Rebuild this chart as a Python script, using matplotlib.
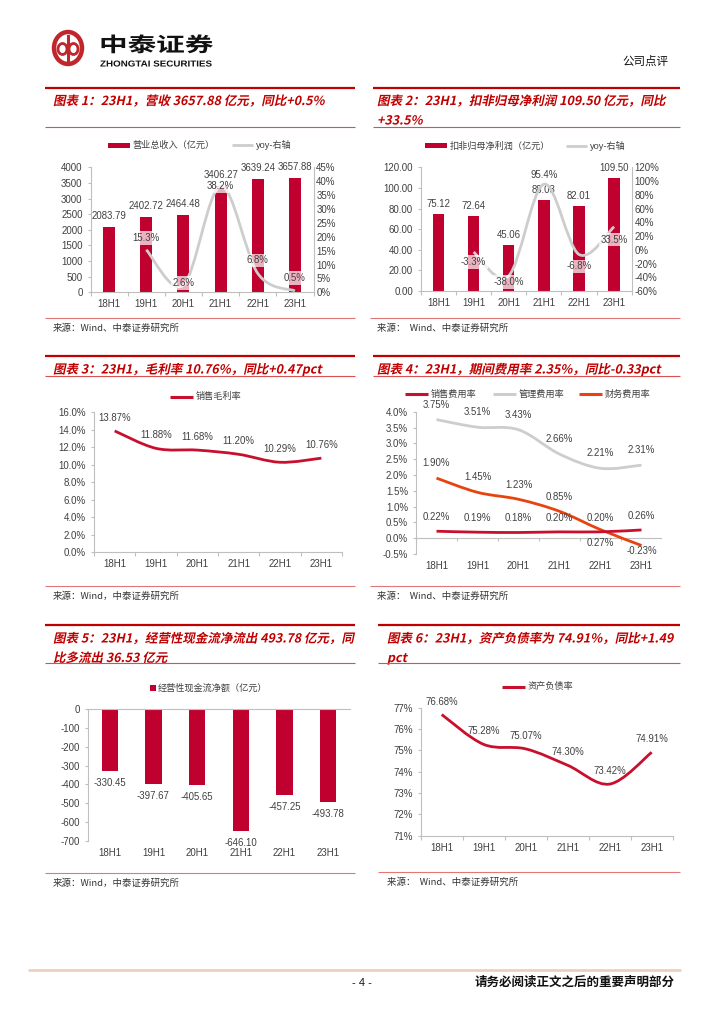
import numpy as np
import matplotlib
matplotlib.use('Agg')
from matplotlib import pyplot as plt
from matplotlib.path import Path
from matplotlib.patches import PathPatch, Rectangle, Ellipse
from matplotlib.textpath import TextPath
from matplotlib.font_manager import FontProperties
from matplotlib.transforms import Affine2D
from matplotlib.ticker import MultipleLocator, FuncFormatter
from matplotlib.lines import Line2D

plt.rcParams['font.family'] = ['Liberation Sans', 'Noto Sans CJK SC', 'DejaVu Sans']

W, H = 724, 1024

# ---- data ----
periods = ['18H1', '19H1', '20H1', '21H1', '22H1', '23H1']
revenue = [2083.79, 2402.72, 2464.48, 3406.27, 3639.24, 3657.88]
revenue_yoy = [15.3, 2.6, 38.2, 6.8, 0.5]          # 19H1..23H1
profit = [75.12, 72.64, 45.06, 88.03, 82.01, 109.50]
profit_yoy = [-3.3, -38.0, 95.4, -6.8, 33.5]        # 19H1..23H1
gross_margin = [13.87, 11.88, 11.68, 11.20, 10.29, 10.76]
sales_exp = [0.22, 0.19, 0.18, 0.20, 0.20, 0.26]
admin_exp = [3.75, 3.51, 3.43, 2.66, 2.21, 2.31]
fin_exp = [1.90, 1.45, 1.23, 0.85, 0.27, -0.23]
op_cash = [-330.45, -397.67, -405.65, -646.10, -457.25, -493.78]
debt_ratio = [76.68, 75.28, 75.07, 74.30, 73.42, 74.91]

# label offsets in pixels (+ is up), just to sit like the original
rev_yoy_off = [12, 2, 0, 13, 13]
profit_yoy_off = [-10, -6, 9, -12, -13]
fin_off = [15, 15, 14, 14, -13, -6]

RED = '#c0002f'
LRED = '#c8102e'
GRAYL = '#cdcdcd'
ORANGE = '#e8430f'
AXIS = '#bfbfbf'
TXT = '#404040'
TRED = '#c00000'
TICK_FS = 7.0
LAB_FS = 6.9

CJK = FontProperties(family='Noto Sans CJK SC', weight='bold')


def px_axes(fig, x0, y0, x1, y1):
    return fig.add_axes([x0 / W, 1 - y1 / H, (x1 - x0) / W, (y1 - y0) / H])


def smooth_path(xs, ys):
    # excel-like smooth line: bezier segments through the points
    pts = np.column_stack([xs, ys]).astype(float)
    n = len(pts)
    verts = [pts[0]]
    codes = [Path.MOVETO]
    for i in range(n - 1):
        p0 = pts[i - 1] if i > 0 else pts[i]
        p1 = pts[i]
        p2 = pts[i + 1]
        p3 = pts[i + 2] if i + 2 < n else pts[i + 1]
        verts += [p1 + (p2 - p0) / 6, p2 - (p3 - p1) / 6, p2]
        codes += [Path.CURVE4] * 3
    return Path(verts, codes)


def add_smooth(ax, xs, ys, color, lw=2.0):
    ax.add_patch(PathPatch(smooth_path(xs, ys), fill=False, ec=color, lw=lw,
                           capstyle='butt', joinstyle='round', zorder=3))


def style_axes(ax, fmt, step, ylim):
    ax.set_facecolor('none')
    for s in ['top', 'right']:
        ax.spines[s].set_visible(False)
    for s in ['left', 'bottom']:
        ax.spines[s].set_color(AXIS)
        ax.spines[s].set_linewidth(0.8)
    ax.set_ylim(*ylim)
    ax.yaxis.set_major_locator(MultipleLocator(step))
    ax.yaxis.set_major_formatter(FuncFormatter(lambda v, p: fmt % v))
    ax.tick_params(axis='y', colors=AXIS, labelcolor=TXT, labelsize=TICK_FS,
                   length=2.2, width=0.8, pad=3.5)
    ax.set_xlim(-0.5, 5.5)
    ax.set_xticks(range(6))
    ax.set_xticklabels(periods)
    ax.tick_params(axis='x', length=0, labelsize=TICK_FS, labelcolor=TXT, pad=5)
    ax.set_xticks(np.arange(-0.5, 6, 1), minor=True)
    ax.tick_params(axis='x', which='minor', length=3, color=AXIS, width=0.8)


def right_axis(ax, fmt, step, ylim):
    ax2 = ax.twinx()
    ax2.set_facecolor('none')
    for s in ['top', 'left', 'bottom']:
        ax2.spines[s].set_visible(False)
    ax2.spines['right'].set_color(AXIS)
    ax2.spines['right'].set_linewidth(0.8)
    ax2.set_ylim(*ylim)
    ax2.yaxis.set_major_locator(MultipleLocator(step))
    ax2.yaxis.set_major_formatter(FuncFormatter(lambda v, p: fmt % v))
    ax2.tick_params(axis='y', length=0, labelsize=TICK_FS, labelcolor=TXT, pad=2)
    ax2.set_xlim(-0.5, 5.5)
    return ax2


def label(ax, x, y, s, off_px, box=False, size=LAB_FS):
    kw = {}
    if box:
        kw['bbox'] = dict(boxstyle='square,pad=0.18', fc='white', ec='none', alpha=0.7)
    ax.annotate(s, (x, y), xytext=(0, off_px * 0.72), textcoords='offset points',
                ha='center', va='center', fontsize=size, color=TXT, zorder=5, **kw)


def slant_text(bg, x, y, s, size, color, prop=CJK, skew=12, sx=1.0):
    tp = TextPath((0, 0), s, size=size, prop=prop)
    tr = Affine2D().skew_deg(skew, 0).scale(sx, -1).translate(x, y) + bg.transData
    bg.add_patch(PathPatch(tp, fc=color, ec='none', lw=0, transform=tr))


def title_block(bg, x0, x1, y_top, y_bot, lines, tx):
    bg.plot([x0, x1], [y_top, y_top], color=TRED, lw=1.6, solid_capstyle='butt')
    bg.plot([x0, x1], [y_bot, y_bot], color='#d85050', lw=0.8, solid_capstyle='butt')
    for i, s in enumerate(lines):
        slant_text(bg, tx, y_top + 17.5 + i * 19.5, s, 12.5, TRED)


def source(bg, x0, x1, y_line, tx, s):
    bg.plot([x0, x1], [y_line, y_line], color='#e07878', lw=0.8, solid_capstyle='butt')
    bg.text(tx, y_line + 10, s, fontsize=6.8, color='#333333', va='center',
            family=['Noto Sans CJK SC'])


def leg_box(bg, x, y, w, h, color, s):
    bg.add_patch(Rectangle((x, y - h / 2), w, h, fc=color, ec='none'))
    bg.text(x + w + 2.5, y, s, fontsize=6.6, color=TXT, va='center')


def leg_line(bg, x, y, w, color, s, lw=2.0):
    bg.add_line(Line2D([x, x + w], [y, y], color=color, lw=lw, solid_capstyle='butt'))
    bg.text(x + w + 3, y, s, fontsize=6.6, color=TXT, va='center')


fig = plt.figure(figsize=(W / 100, H / 100), dpi=100)
bg = fig.add_axes([0, 0, 1, 1])
bg.set_xlim(0, W)
bg.set_ylim(H, 0)
bg.axis('off')

# ---- page header ----
bg.add_patch(Ellipse((68, 48), 28, 32, fc='none', ec='#c0272d', lw=3.2))
bg.add_line(Line2D([68, 68], [36, 60], color='#c0272d', lw=2.2))
bg.add_patch(Ellipse((62.5, 49), 9, 11, fc='none', ec='#c0272d', lw=2.0))
bg.add_patch(Ellipse((73.5, 49), 9, 11, fc='none', ec='#c0272d', lw=2.0))
slant_text(bg, 99, 51.5, '中泰证券', 20, '#111111', skew=0, sx=1.43)
slant_text(bg, 100, 66.5, 'ZHONGTAI SECURITIES', 8.6, '#111111',
           prop=FontProperties(family='Liberation Sans', weight='bold'), skew=0, sx=1.14)
bg.text(668, 61, '公司点评', fontsize=8.3, ha='right', va='center', color='#111111',
        family=['Noto Sans CJK SC'])

# ---- titles / sources ----
title_block(bg, 45, 355, 87.5, 127, ['图表 1：23H1，营收 3657.88 亿元，同比+0.5%'], 53)
title_block(bg, 373, 680, 87.5, 127, ['图表 2：23H1，扣非归母净利润 109.50 亿元，同比', '+33.5%'], 377)
title_block(bg, 45, 355, 356, 376, ['图表 3：23H1，毛利率 10.76%，同比+0.47pct'], 53)
title_block(bg, 373, 680, 356, 376, ['图表 4：23H1，期间费用率 2.35%，同比-0.33pct'], 377)
title_block(bg, 45, 355, 625, 663, ['图表 5：23H1，经营性现金流净流出 493.78 亿元，同', '比多流出 36.53 亿元'], 53)
title_block(bg, 378, 680, 625, 663, ['图表 6：23H1，资产负债率为 74.91%，同比+1.49', 'pct'], 387)

source(bg, 45, 355, 317.7, 53, '来源：Wind、中泰证券研究所')
source(bg, 370, 680, 317.7, 377, '来源：  Wind、中泰证券研究所')
source(bg, 45, 355, 585.7, 53, '来源：Wind，中泰证券研究所')
source(bg, 370, 680, 585.7, 377, '来源：  Wind、中泰证券研究所')
source(bg, 45, 355, 873, 53, '来源：Wind，中泰证券研究所')
source(bg, 378, 680, 872, 387, '来源：  Wind、中泰证券研究所')

x = np.arange(6)

# ---- chart 1 ----
leg_box(bg, 108, 145, 22, 5, RED, '营业总收入（亿元）')
leg_line(bg, 232, 145, 21, GRAYL, 'yoy-右轴')
ax = px_axes(fig, 90.5, 167.3, 313.5, 292.3)
style_axes(ax, '%d', 500, (0, 4000))
ax.bar(x, revenue, width=0.32, color=RED, zorder=2)
for i, v in enumerate(revenue):
    label(ax, i, v, '%.2f' % v, 11)
ax2 = right_axis(ax, '%d%%', 5, (0, 45))
add_smooth(ax2, x[1:], revenue_yoy, GRAYL)
for i, v in enumerate(revenue_yoy):
    label(ax2, i + 1, v, '%.1f%%' % v, rev_yoy_off[i], box=True)

# ---- chart 2 ----
leg_box(bg, 425, 145.7, 22, 5, RED, '扣非归母净利润（亿元）')
leg_line(bg, 566, 145.7, 21, GRAYL, 'yoy-右轴')
ax = px_axes(fig, 420.8, 167.3, 631.7, 291)
style_axes(ax, '%.2f', 20, (0, 120))
ax.bar(x, profit, width=0.33, color=RED, zorder=2)
for i, v in enumerate(profit):
    label(ax, i, v, '%.2f' % v, 10)
ax2 = right_axis(ax, '%d%%', 20, (-60, 120))
add_smooth(ax2, x[1:], profit_yoy, GRAYL)
for i, v in enumerate(profit_yoy):
    label(ax2, i + 1, v, '%.1f%%' % v, profit_yoy_off[i], box=True)

# ---- chart 3 ----
leg_line(bg, 170, 396.7, 23, LRED, '销售毛利率', lw=2.2)
ax = px_axes(fig, 94, 412.3, 342, 552.3)
style_axes(ax, '%.1f%%', 2, (0, 16))
add_smooth(ax, x, gross_margin, LRED, lw=2.0)
for i, v in enumerate(gross_margin):
    label(ax, i, v, '%.2f%%' % v, 13)

# ---- chart 4 ----
leg_line(bg, 405, 394.3, 23, LRED, '销售费用率', lw=2.2)
leg_line(bg, 493, 394.3, 23, GRAYL, '管理费用率', lw=2.2)
leg_line(bg, 579, 394.3, 23, ORANGE, '财务费用率', lw=2.2)
ax = px_axes(fig, 416, 411.7, 662, 554)
style_axes(ax, '%.1f%%', 0.5, (-0.5, 4.0))
ax.spines['bottom'].set_visible(False)
ax.tick_params(axis='x', which='minor', length=0)
ax.axhline(0, color=AXIS, lw=0.8, zorder=1)
ax.vlines(np.arange(-0.5, 6, 1), -0.1, 0, color=AXIS, lw=0.8)
add_smooth(ax, x, admin_exp, GRAYL, lw=2.0)
add_smooth(ax, x, fin_exp, ORANGE, lw=2.0)
add_smooth(ax, x, sales_exp, LRED, lw=2.0)
for i in range(6):
    label(ax, i, admin_exp[i], '%.2f%%' % admin_exp[i], 15)
    label(ax, i, fin_exp[i], '%.2f%%' % fin_exp[i], fin_off[i])
    label(ax, i, sales_exp[i], '%.2f%%' % sales_exp[i], 14)

# ---- chart 5 ----
bg.add_patch(Rectangle((150, 685), 5.5, 6, fc=RED, ec='none'))
bg.text(158, 688, '经营性现金流净额（亿元）', fontsize=6.6, color=TXT, va='center')
ax = px_axes(fig, 88, 709.3, 350, 840.7)
style_axes(ax, '%d', 100, (-700, 0))
ax.spines['bottom'].set_visible(False)
ax.spines['top'].set_visible(True)
ax.spines['top'].set_color(AXIS)
ax.spines['top'].set_linewidth(0.8)
ax.tick_params(axis='x', which='minor', length=0)
ax.bar(x, op_cash, width=0.38, color=RED, zorder=2)
for i, v in enumerate(op_cash):
    label(ax, i, v, '%.2f' % v, -12)

# ---- chart 6 ----
leg_line(bg, 502, 686.7, 23, LRED, '资产负债率', lw=2.2)
ax = px_axes(fig, 420.7, 707.7, 672.7, 835.7)
style_axes(ax, '%d%%', 1, (71, 77))
add_smooth(ax, x, debt_ratio, LRED, lw=2.0)
for i, v in enumerate(debt_ratio):
    label(ax, i, v, '%.2f%%' % v, 13)

# ---- footer ----
bg.plot([28, 681], [970, 970], color='#ecd0bd', lw=2.0, solid_capstyle='butt')
bg.text(362, 982.5, '- 4 -', fontsize=8, ha='center', va='center', color='#111111')
bg.text(675, 982.5, '请务必阅读正文之后的重要声明部分', fontsize=9, ha='right', va='center',
        color='#111111', fontweight='bold', family=['Noto Sans CJK SC'])

fig.savefig('out.png', dpi=100)
